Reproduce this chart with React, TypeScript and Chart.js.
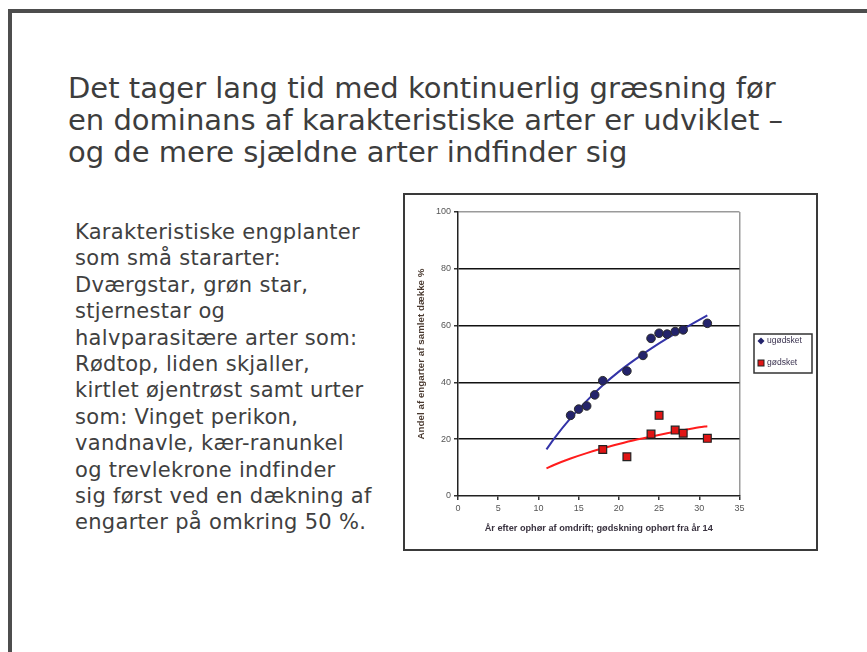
import React, { useEffect, useRef } from "react";
import { Chart, registerables } from "chart.js";

Chart.register(...registerables);

const titleLines = [
  "Det tager lang tid med kontinuerlig græsning før",
  "en dominans af karakteristiske arter er udviklet –",
  "og de mere sjældne arter indfinder sig",
];

const bodyLines = [
  "Karakteristiske engplanter",
  "som små stararter:",
  "Dværgstar, grøn star,",
  "stjernestar og",
  "halvparasitære arter som:",
  "Rødtop, liden skjaller,",
  "kirtlet øjentrøst samt urter",
  "som: Vinget perikon,",
  "vandnavle, kær-ranunkel",
  "og trevlekrone indfinder",
  "sig først ved en dækning af",
  "engarter på omkring 50 %.",
];

const seriesLabels = ["ugødsket", "gødsket"];

const ugodsketYears = [14, 15, 16, 17, 18, 21, 23, 24, 25, 26, 27, 28, 31];
const ugodsketValues = [28.4, 30.6, 31.7, 35.6, 40.6, 44.0, 49.5, 55.5, 57.3, 57.0, 57.9, 58.5, 60.8];

const godsketYears = [18, 21, 24, 25, 27, 28, 31];
const godsketValues = [16.4, 13.8, 21.8, 28.4, 23.2, 22.1, 20.3];

const trendYears = [11, 12, 14, 16, 18, 20, 22, 24, 26, 28, 30, 31];
const ugodsketTrend = [16.4, 20.4, 27.4, 33.5, 39.0, 43.8, 48.0, 51.9, 55.5, 58.8, 62.0, 63.6];
const godsketTrend = [9.7, 11.0, 13.2, 15.1, 16.8, 18.3, 19.7, 20.9, 22.1, 23.2, 24.2, 24.6];

const xAxisTitle = "År efter ophør af omdrift; gødskning ophørt fra år 14";
const yAxisTitle = "Andel af engarter af samlet dække %";

const boxLegend = {
  id: "boxLegend",
  afterDraw(chart: any) {
    const { ctx, chartArea } = chart;
    const w = 58;
    const h = 39;
    const left = chartArea.right + 14.5;
    const top = (chartArea.top + chartArea.bottom) / 2 - h / 2 - 0.5;
    ctx.save();
    ctx.fillStyle = "#ffffff";
    ctx.fillRect(left, top, w, h);
    ctx.strokeStyle = "#333333";
    ctx.lineWidth = 1.5;
    ctx.strokeRect(left, top, w, h);
    ctx.font = "8.5px 'Liberation Sans', Arial, sans-serif";
    ctx.textBaseline = "middle";
    ctx.textAlign = "left";
    for (let i = 0; i < 2; i++) {
      const ds = chart.data.datasets[i];
      const y = top + 7 + i * 22;
      const mx = left + 7;
      if (i === 0) {
        ctx.beginPath();
        ctx.moveTo(mx, y - 3.5);
        ctx.lineTo(mx + 3.5, y);
        ctx.lineTo(mx, y + 3.5);
        ctx.lineTo(mx - 3.5, y);
        ctx.closePath();
        ctx.fillStyle = ds.backgroundColor;
        ctx.fill();
      } else {
        ctx.fillStyle = ds.backgroundColor;
        ctx.fillRect(mx - 3, y - 3, 6, 6);
        ctx.strokeStyle = "#222222";
        ctx.lineWidth = 1;
        ctx.strokeRect(mx - 3, y - 3, 6, 6);
      }
      ctx.fillStyle = "#3b3350";
      ctx.fillText(ds.label, left + 13, y);
    }
    ctx.restore();
  },
};

function ChartBox() {
  const ref = useRef<HTMLCanvasElement | null>(null);
  useEffect(() => {
    if (!ref.current) return;
    Chart.defaults.font.family = "'Liberation Sans', Arial, sans-serif";
    const chart = new Chart(ref.current, {
      type: "scatter",
      data: {
        datasets: [
          {
            label: seriesLabels[0],
            data: ugodsketYears.map((x, i) => ({ x, y: ugodsketValues[i] })),
            backgroundColor: "#23236b",
            borderColor: "#2b2b2b",
            borderWidth: 1,
            pointRadius: 4.3,
            pointStyle: "circle",
            order: 0,
          },
          {
            label: seriesLabels[1],
            data: godsketYears.map((x, i) => ({ x, y: godsketValues[i] })),
            backgroundColor: "#e01515",
            borderColor: "#222222",
            borderWidth: 1.2,
            pointRadius: 5.5,
            pointStyle: "rect",
            order: 0,
          },
          {
            label: seriesLabels[0] + " trend",
            data: trendYears.map((x, i) => ({ x, y: ugodsketTrend[i] })),
            showLine: true,
            borderColor: "#3434a8",
            borderWidth: 2,
            pointRadius: 0,
            cubicInterpolationMode: "monotone",
            order: 1,
          },
          {
            label: seriesLabels[1] + " trend",
            data: trendYears.map((x, i) => ({ x, y: godsketTrend[i] })),
            showLine: true,
            borderColor: "#ff1c1c",
            borderWidth: 2,
            pointRadius: 0,
            cubicInterpolationMode: "monotone",
            order: 1,
          },
        ] as any,
      },
      options: {
        animation: false,
        responsive: false,
        maintainAspectRatio: false,
        layout: { padding: { top: 17, right: 76.5, bottom: 0, left: 0 } },
        plugins: {
          legend: { display: false },
          tooltip: { enabled: false },
        },
        scales: {
          x: {
            type: "linear",
            min: 0,
            max: 35,
            afterFit: (s: any) => {
              s.height = 53;
            },
            ticks: {
              stepSize: 5,
              padding: 3,
              color: "#555555",
              font: { size: 9 },
            },
            grid: {
              color: (c: any) => (c.tick && c.tick.value === 35 ? "#9a9a9a" : "rgba(0,0,0,0)"),
              lineWidth: 1.5,
              tickColor: "#333333",
              tickLength: 4,
              drawTicks: true,
            },
            border: { color: "#222222", width: 1.5 },
            title: {
              display: true,
              text: xAxisTitle,
              color: "#3a3340",
              font: { size: 9.2, weight: "bold" },
              padding: { top: 4, bottom: 15.5 },
            },
          },
          y: {
            type: "linear",
            min: 0,
            max: 100,
            afterFit: (s: any) => {
              s.width = 53;
            },
            ticks: {
              stepSize: 20,
              padding: 3,
              color: "#555555",
              font: { size: 9 },
            },
            grid: {
              color: (c: any) => {
                const v = c.tick ? c.tick.value : -1;
                if (v === 100) return "#9a9a9a";
                if (v === 0) return "rgba(0,0,0,0)";
                return "#111111";
              },
              lineWidth: 1.5,
              tickColor: "#333333",
              tickLength: 4,
              drawTicks: true,
            },
            border: { color: "#222222", width: 1.5 },
            title: {
              display: true,
              text: yAxisTitle,
              color: "#4a3a30",
              font: { size: 9.8, weight: "bold" },
              padding: { top: 10.5, bottom: 2 },
            },
          },
        },
      } as any,
      plugins: [boxLegend],
    });
    return () => chart.destroy();
  }, []);
  return <canvas ref={ref} width={411} height={354} style={{ display: "block", width: 411, height: 354 }} />;
}

export default function App() {
  return (
    <div>
      <div
        style={{
          position: "absolute",
          left: 8,
          top: 9,
          width: 855,
          height: 639,
          borderLeft: "4px solid #4d4d4d",
          borderTop: "4px solid #4d4d4d",
          background: "#ffffff",
        }}
      />
      <div
        style={{
          position: "absolute",
          left: 68,
          top: 72,
          fontFamily: "'DejaVu Sans', Verdana, sans-serif",
          fontSize: 29,
          lineHeight: "32px",
          color: "#3d3d3d",
          whiteSpace: "nowrap",
        }}
      >
        {titleLines.map((l, i) => (
          <div key={i}>{l}</div>
        ))}
      </div>
      <div
        style={{
          position: "absolute",
          left: 75,
          top: 219,
          fontFamily: "'DejaVu Sans', Verdana, sans-serif",
          fontSize: 21,
          letterSpacing: 0.3,
          lineHeight: "26.4px",
          color: "#404040",
          whiteSpace: "nowrap",
        }}
      >
        {bodyLines.map((l, i) => (
          <div key={i}>{l}</div>
        ))}
      </div>
      <div
        style={{
          position: "absolute",
          left: 403,
          top: 193,
          width: 411,
          height: 354,
          border: "2px solid #3a3a3a",
          background: "#ffffff",
        }}
      >
        <ChartBox />
      </div>
    </div>
  );
}
